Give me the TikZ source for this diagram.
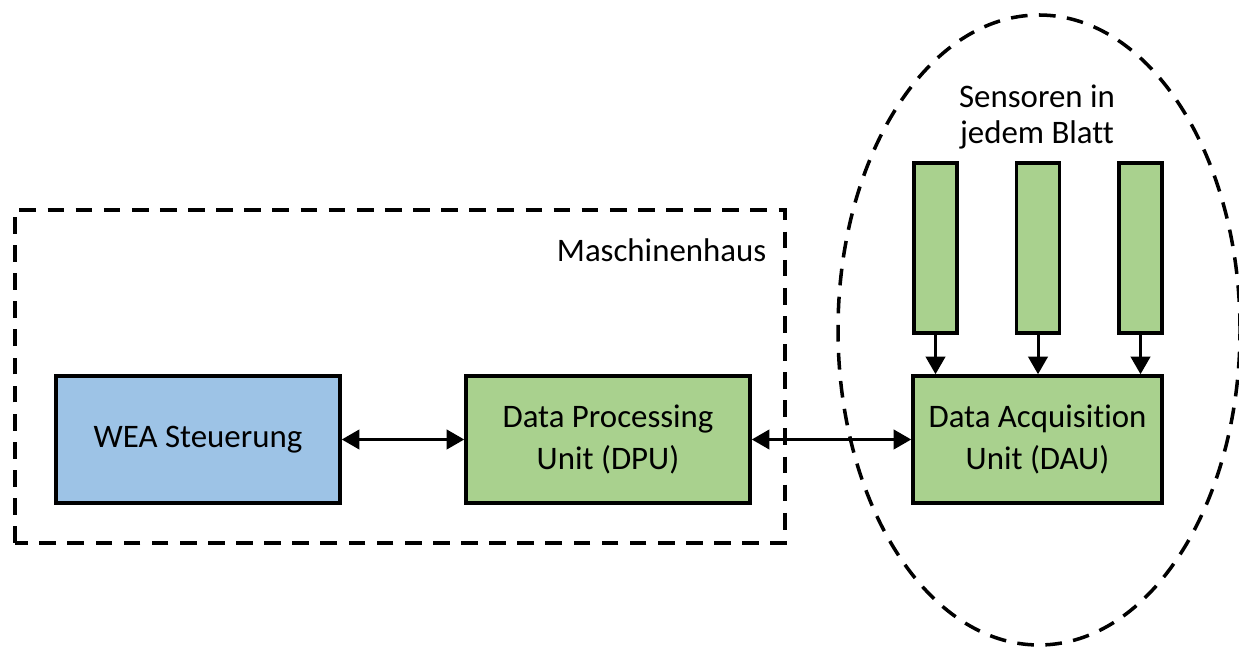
\documentclass[tikz,border=0pt]{standalone}
\usepackage{fontspec}
\setmainfont{Carlito}[Ligatures={NoCommon}]
\usetikzlibrary{arrows.meta,shapes.geometric}
\definecolor{blau}{HTML}{9DC3E6}
\definecolor{gruen}{HTML}{A9D18E}
\begin{document}
\begin{tikzpicture}[font=\fontsize{18.7}{23.5}\selectfont, line join=miter,
  >={Triangle[length=10pt,width=11pt]},
  blk/.style={draw,line width=2pt,inner sep=2pt,align=center,minimum height=2.54cm},
  rahmen/.style={line width=2pt,dash pattern=on 9.5pt off 6.5pt}]
\useasboundingbox(0,0)rectangle(24.78,12.94);
\draw[rahmen](0.3,2.08)rectangle(15.7,8.74);
\draw[rahmen](20.78,6.34)ellipse[x radius=4.02,y radius=6.3];
\node[anchor=east](haus)at(15.45,7.94){Maschinenhaus};
\node[align=center,font=\fontsize{18.7}{20.5}\selectfont](sens)at(20.74,10.6){Sensoren in\\jedem Blatt};
\node[blk,fill=blau,minimum width=5.68cm](wea)at(3.96,4.15){WEA Steuerung};
\node[blk,fill=gruen,minimum width=5.68cm](dpu)at(12.16,4.15){Data Processing\\Unit (DPU)};
\node[blk,fill=gruen,minimum width=4.98cm](dau)at(20.75,4.15){Data Acquisition\\Unit (DAU)};
\foreach \n/\x in{1/18.71,2/20.76,3/22.81}{
\node[draw,line width=2pt,fill=gruen,minimum width=0.86cm,minimum height=3.4cm,inner sep=0](s\n)at(\x,7.98){};
\draw[->,line width=1.7pt](s\n.south)--(s\n.south|-dau.north);}
\draw[<->,line width=1.7pt](wea)--(dpu);
\draw[<->,line width=1.7pt](dpu)--(dau);
\end{tikzpicture}
\end{document}
